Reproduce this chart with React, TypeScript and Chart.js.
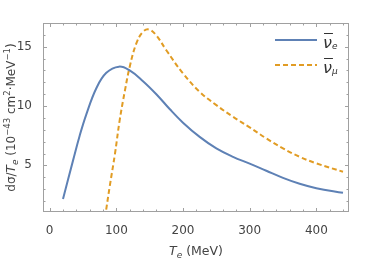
import React, { useEffect, useRef } from 'react';
import { Chart, registerables } from 'chart.js';

Chart.register(...registerables);

// Electron antineutrino curve (T_e in MeV, dσ/dT_e in 1e-43 cm²/MeV)
const nuEBarTe = [20, 35, 45, 55, 70, 85, 104, 120, 140, 160, 180, 200, 225, 250, 275, 300, 325, 350, 375, 400, 440];
const nuEBarXs = [2.16, 5.4, 7.5, 9.3, 11.5, 12.8, 13.32, 13.0, 12.1, 11.0, 9.75, 8.6, 7.4, 6.43, 5.72, 5.15, 4.55, 3.95, 3.45, 3.08, 2.69];

// Muon antineutrino curve
const nuMuBarTe = [83, 90, 98, 105, 113, 120, 130, 140, 149, 160, 175, 200, 225, 250, 275, 300, 325, 350, 375, 400, 440];
const nuMuBarXs = [0.6, 3.2, 6.0, 8.8, 11.34, 13.3, 15.28, 16.26, 16.45, 15.95, 14.7, 12.75, 11.2, 10.08, 9.1, 8.2, 7.27, 6.43, 5.72, 5.17, 4.46];

const xMajorTicks = [0, 100, 200, 300, 400];
const yMajorTicks = [5, 10, 15];

const BLUE = '#5e81b5';
const ORANGE = '#e19c24';
const FRAME = '#a0a0a0';
const TEXT = '#444444';
const FONT = '"DejaVu Sans", sans-serif';

type Seg = { t: string; it?: boolean; s?: number; dy?: number };

function drawRich(ctx: CanvasRenderingContext2D, segs: Seg[], x: number, y: number, center: boolean) {
  const fontOf = (g: Seg) => `${g.it ? 'italic ' : ''}${g.s ?? 12}px ${FONT}`;
  let total = 0;
  for (const g of segs) {
    ctx.font = fontOf(g);
    total += ctx.measureText(g.t).width;
  }
  let cx = center ? x - total / 2 : x;
  for (const g of segs) {
    ctx.font = fontOf(g);
    ctx.fillText(g.t, cx, y + (g.dy ?? 0));
    cx += ctx.measureText(g.t).width;
  }
}

const framePlugin = {
  id: 'framePlugin',
  afterDraw(chart: any) {
    const { ctx, chartArea: a, scales } = chart;
    const xs = scales.x;
    const ys = scales.y;
    ctx.save();
    // frame
    ctx.strokeStyle = FRAME;
    ctx.lineWidth = 1;
    ctx.strokeRect(Math.round(a.left) + 0.5, Math.round(a.top) + 0.5, Math.round(a.right - a.left) - 1, Math.round(a.bottom - a.top) - 1);
    // ticks
    ctx.beginPath();
    for (const t of xs.ticks) {
      const px = Math.round(xs.getPixelForValue(t.value)) + 0.5;
      const len = xMajorTicks.includes(t.value) ? 4 : 2.5;
      ctx.moveTo(px, a.bottom);
      ctx.lineTo(px, a.bottom - len);
      ctx.moveTo(px, a.top);
      ctx.lineTo(px, a.top + len);
    }
    for (const t of ys.ticks) {
      const py = Math.round(ys.getPixelForValue(t.value)) + 0.5;
      const len = yMajorTicks.includes(t.value) ? 4 : 2.5;
      ctx.moveTo(a.left, py);
      ctx.lineTo(a.left + len, py);
      ctx.moveTo(a.right, py);
      ctx.lineTo(a.right - len, py);
    }
    ctx.stroke();

    // legend
    const lx0 = a.right - 74;
    const lx1 = a.right - 32;
    const rows = [
      { y: a.top + 17, color: BLUE, dash: [] as number[], sub: 'e' },
      { y: a.top + 42, color: ORANGE, dash: [5, 3], sub: 'μ' },
    ];
    for (const r of rows) {
      ctx.strokeStyle = r.color;
      ctx.lineWidth = 2;
      ctx.setLineDash(r.dash);
      ctx.beginPath();
      ctx.moveTo(lx0, r.y);
      ctx.lineTo(lx1, r.y);
      ctx.stroke();
      ctx.setLineDash([]);
      ctx.fillStyle = '#333333';
      ctx.textBaseline = 'alphabetic';
      ctx.textAlign = 'left';
      const tx = lx1 + 6;
      ctx.font = `italic 16px ${FONT}`;
      ctx.fillText('ν', tx, r.y + 8);
      const w = ctx.measureText('ν').width;
      ctx.strokeStyle = '#333333';
      ctx.lineWidth = 1;
      ctx.beginPath();
      ctx.moveTo(tx + 1, r.y - 6.5);
      ctx.lineTo(tx + w + 1, r.y - 6.5);
      ctx.stroke();
      ctx.font = `italic 9px ${FONT}`;
      ctx.fillText(r.sub, tx + w, r.y + 9);
    }

    // axis titles
    ctx.fillStyle = TEXT;
    ctx.textAlign = 'left';
    ctx.textBaseline = 'alphabetic';
    drawRich(ctx, [
      { t: 'T', it: true, s: 12.5 },
      { t: 'e', it: true, s: 9, dy: 2.5 },
      { t: ' (MeV)', s: 12.5 },
    ], (a.left + a.right) / 2, 255, true);

    ctx.save();
    ctx.translate(15, (a.top + a.bottom) / 2);
    ctx.rotate(-Math.PI / 2);
    drawRich(ctx, [
      { t: 'dσ/' },
      { t: 'T', it: true },
      { t: 'e', it: true, s: 9, dy: 2.5 },
      { t: ' (10' },
      { t: '−43', s: 8.5, dy: -5 },
      { t: ' cm' },
      { t: '2', s: 8.5, dy: -5 },
      { t: '·MeV' },
      { t: '−1', s: 8.5, dy: -5 },
      { t: ')' },
    ], 0, 0, true);
    ctx.restore();
    ctx.restore();
  },
};

export default function App() {
  const ref = useRef<HTMLCanvasElement>(null);
  useEffect(() => {
    if (!ref.current) return;
    const chart = new Chart(ref.current, {
      type: 'line',
      data: {
        datasets: [
          {
            label: 'ν̄e',
            data: nuEBarTe.map((x, i) => ({ x, y: nuEBarXs[i] })),
            borderColor: BLUE,
            borderWidth: 2,
            pointRadius: 0,
            fill: false,
            tension: 0.4,
          },
          {
            label: 'ν̄μ',
            data: nuMuBarTe.map((x, i) => ({ x, y: nuMuBarXs[i] })),
            borderColor: ORANGE,
            borderWidth: 2,
            borderDash: [5, 3],
            pointRadius: 0,
            fill: false,
            tension: 0.4,
          },
        ],
      },
      options: {
        animation: false,
        responsive: false,
        layout: { padding: { top: 23, right: 25, left: 0, bottom: 0 } },
        plugins: { legend: { display: false }, tooltip: { enabled: false } },
        scales: {
          x: {
            type: 'linear',
            min: -10,
            max: 449,
            grid: { display: false },
            border: { display: false },
            ticks: {
              stepSize: 20,
              includeBounds: false,
              autoSkip: false,
              maxRotation: 0,
              padding: 4,
              color: TEXT,
              font: { family: FONT, size: 12 },
              callback: (v: any) => (xMajorTicks.includes(Number(v)) ? String(v) : ''),
            },
            afterFit: (s: any) => { s.height = 47; },
          },
          y: {
            type: 'linear',
            min: 1.07,
            max: 17,
            grid: { display: false },
            border: { display: false },
            ticks: {
              stepSize: 1,
              includeBounds: false,
              autoSkip: false,
              padding: 3,
              color: TEXT,
              font: { family: FONT, size: 12 },
              callback: (v: any) => (yMajorTicks.includes(Number(v)) ? String(v) : ''),
            },
            afterFit: (s: any) => { s.width = 43; },
          },
        },
      },
      plugins: [framePlugin],
    } as any);
    return () => chart.destroy();
  }, []);
  return (
    <div style={{ position: 'fixed', left: 0, top: 0, width: 374, height: 259, background: '#fff' }}>
      <canvas ref={ref} width={374} height={259} style={{ display: 'block' }} />
    </div>
  );
}
